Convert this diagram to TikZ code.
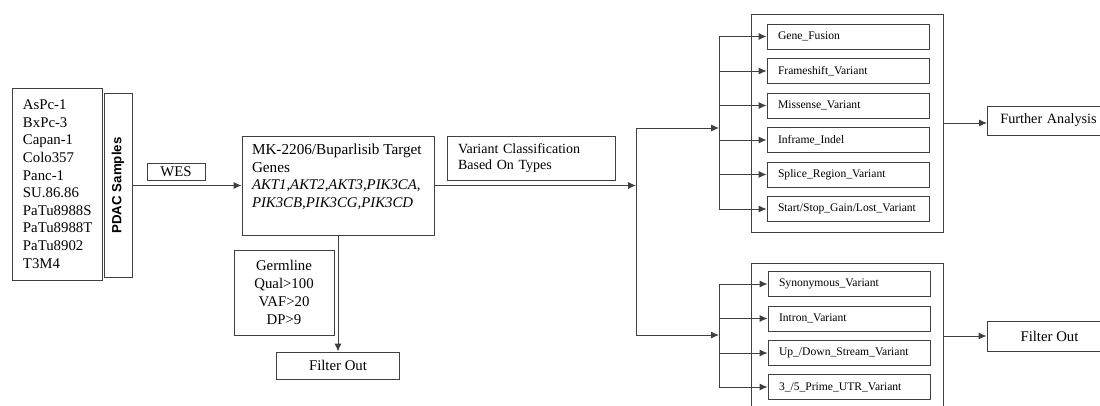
\documentclass[tikz,border=0pt]{standalone}
\usepackage{fontspec}
\setmainfont{Liberation Serif}
\newfontfamily\pdacfont{Liberation Sans}
\usetikzlibrary{arrows.meta}
\tikzset{
  box/.style={draw=black!75, line width=0.9pt, rectangle, inner sep=0pt},
  mainfont/.style={font=\fontsize{14.8}{17.7}\selectfont},
  smallbox/.style={box, minimum width=162pt, minimum height=25pt, text width=140pt, inner xsep=11pt, align=left, font=\fontsize{11.6}{13}\selectfont},
  conn/.style={draw=black!75, line width=0.9pt},
  arr/.style={conn, -{Latex[length=8pt,width=7pt]}},
}
\begin{document}
\begin{tikzpicture}[x=1pt,y=-1pt]
\useasboundingbox (0,0) rectangle (1100,405);
\clip (0,0) rectangle (1100,405);

% left column
\node[box, minimum width=90pt, minimum height=192pt, text width=68pt, inner xsep=11pt, align=left, font=\fontsize{14.8}{17.6}\selectfont] (samples) at (57,184)
  {AsPc-1\\BxPc-3\\Capan-1\\Colo357\\Panc-1\\SU.86.86\\PaTu8988S\\PaTu8988T\\PaTu8902\\T3M4};
\node[box, minimum width=28pt, minimum height=184pt] (pdac) at (118,185.5)
  {\rotatebox{90}{\pdacfont\bfseries\fontsize{13.3}{15}\selectfont PDAC Samples}};
\node[box, minimum width=58pt, minimum height=17pt, mainfont] (wes) at (176,171.5) {WES};

\node[box, minimum width=192pt, minimum height=99pt, inner xsep=10pt, inner ysep=8pt, font=\fontsize{15.2}{17.7}\selectfont] (mk) at (338,185.5)
  {\parbox[c][83pt][t]{172pt}{\raggedright MK-2206/Buparlisib Target\\Genes\\\fontsize{14.8}{17.7}\selectfont\textit{AKT1,AKT2,AKT3,PIK3CA,}\\\textit{PIK3CB,PIK3CG,PIK3CD}}};
\node[box, minimum width=100pt, minimum height=85pt, align=center, font=\fontsize{14.8}{18}\selectfont] (germ) at (284,292.5)
  {Germline\\Qual>100\\VAF>20\\DP>9};
\node[box, minimum width=123pt, minimum height=27pt, mainfont] (filt1) at (338,365.5) {Filter Out};

\node[box, minimum width=168pt, minimum height=44pt, text width=146pt, inner xsep=11pt, align=left, font=\fontsize{14}{16.7}\selectfont] (var) at (531,158)
  {Variant Classification\\Based On Types};

% right groups
\node[box, minimum width=192pt, minimum height=218pt] (outtop) at (847,123) {};
\node[box, minimum width=192pt, minimum height=160pt] (outbot) at (847,343) {};

\node[smallbox] (s1) at (848,36.5) {Gene\_Fusion};
\node[smallbox] (s2) at (848,71) {Frameshift\_Variant};
\node[smallbox] (s3) at (848,105.5) {Missense\_Variant};
\node[smallbox] (s4) at (848,140) {Inframe\_Indel};
\node[smallbox] (s5) at (848,174.5) {Splice\_Region\_Variant};
\node[smallbox] (s6) at (848,209) {Start/Stop\_Gain/Lost\_Variant};

\node[smallbox] (u1) at (849,284) {Synonymous\_Variant};
\node[smallbox] (u2) at (849,318.5) {Intron\_Variant};
\node[smallbox] (u3) at (849,353) {Up\_/Down\_Stream\_Variant};
\node[smallbox] (u4) at (849,387) {3\_/5\_Prime\_UTR\_Variant};

\node[box, minimum height=29pt, text width=110pt, inner xsep=13pt, align=left, font=\fontsize{14.2}{17}\selectfont, anchor=west] (fa) at (987,120.5) {Further Analysis};
\node[box, minimum width=125pt, minimum height=30pt, mainfont] (fo) at (1049.5,336) {Filter Out};

% junction coordinates
\coordinate (j1) at (636,185.5);
\coordinate (j1t) at (636,128);
\coordinate (j1b) at (636,335);
\coordinate (j2) at (719,128);
\coordinate (j3) at (719,335);
\foreach \n in {1,...,6} {\coordinate (b\n) at (719,0 |- s\n.west);}
\foreach \n in {1,...,4} {\coordinate (c\n) at (719,0 |- u\n.west);}

% connectors
\draw[arr] (pdac.east) -- (mk.west);
\draw[arr] (mk.south) -- (filt1.north);
\draw[arr] (mk.east) -- (j1);
\draw[conn] (j1t) -- (j1b);
\draw[arr] (j1t) -- (j2);
\draw[arr] (j1b) -- (j3);
\draw[conn] (b1) -- (b6);
\foreach \n in {1,...,6} {\draw[arr] (b\n) -- (s\n.west);}
\draw[conn] (c1) -- (c4);
\foreach \n in {1,...,4} {\draw[arr] (c\n) -- (u\n.west);}
\draw[arr] (outtop.east) -- (outtop.east -| fa.west);
\draw[arr] (fo.west -| outbot.east) -- (fo.west);
\end{tikzpicture}
\end{document}
